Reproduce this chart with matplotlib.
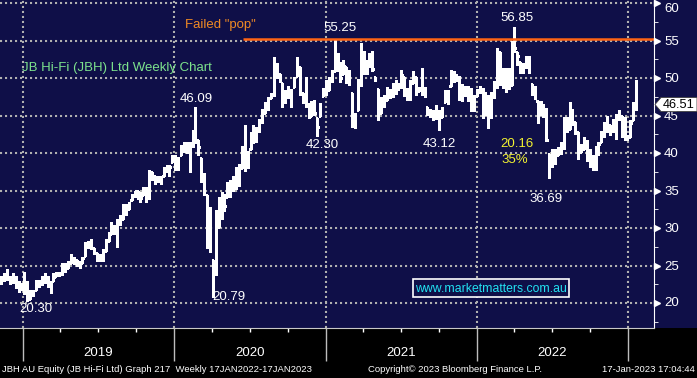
import matplotlib
matplotlib.use("Agg")
import matplotlib.pyplot as plt
import matplotlib.dates as mdates
from matplotlib.patches import Rectangle, Polygon
from matplotlib.transforms import blended_transform_factory
import numpy as np

plt.rcParams["font.family"] = ["Liberation Sans", "DejaVu Sans"]
NARROW = ["Liberation Sans Narrow", "Liberation Sans", "DejaVu Sans"]

# weekly bars, JBH AU Equity, first bar week ending 2018-11-09
first_week = "2018-11-09"
highs = [
    23.6, 24.0, 24.5, 23.6, 24.0, 23.6, 22.9, 22.7, 24.2, 22.9,
    21.8, 21.8, 23.1, 23.1, 23.6, 24.0, 23.6, 22.9, 24.0, 24.2,
    24.2, 25.4, 25.4, 25.6, 26.5, 26.1, 25.8, 25.6, 26.1, 28.1,
    28.3, 28.5, 27.4, 26.7, 26.5, 27.2, 28.5, 29.5, 30.8, 30.4,
    31.2, 31.8, 33.2, 33.2, 33.5, 34.6, 35.0, 35.0, 34.8, 35.5,
    35.5, 37.7, 37.5, 37.0, 37.0, 37.0, 38.2, 38.4, 38.4, 39.7,
    39.7, 39.5, 41.1, 41.5, 41.5, 41.5, 43.1, 46.09, 41.7, 39.3,
    37.3, 34.4, 32.8, 25.7, 32.4, 34.1, 34.8, 34.6, 36.2, 36.4,
    37.0, 38.2, 38.5, 41.0, 43.7, 40.3, 42.8, 43.7, 43.5, 44.6,
    45.9, 46.8, 47.5, 48.0, 52.8, 52.0, 50.6, 49.3, 48.4, 49.0,
    48.5, 50.2, 52.8, 51.5, 48.0, 50.2, 46.7, 46.9, 47.1, 44.7,
    46.7, 48.7, 49.8, 50.2, 51.1, 55.25, 53.3, 52.2, 52.4, 51.5,
    51.1, 48.0, 45.3, 49.9, 54.7, 53.6, 52.4, 53.3, 53.6, 50.2,
    48.6, 47.5, 47.7, 48.8, 48.6, 49.3, 49.7, 49.3, 51.1, 50.2,
    48.7, 49.7, 50.9, 50.2, 48.8, 51.3, 48.8, 46.2, 45.9, 45.7,
    46.4, 45.7, 46.2, 48.4, 48.4, 51.1, 51.0, 50.6, 50.3, 49.2,
    49.0, 48.9, 48.7, 47.8, 48.5, 48.9, 48.7, 48.2, 47.8, 48.2,
    49.6, 54.0, 53.5, 51.3, 51.3, 51.3, 54.9, 56.85, 53.5, 52.2,
    52.0, 52.9, 52.9, 49.2, 49.0, 47.0, 47.0, 46.5, 46.0, 39.9,
    40.6, 40.6, 40.8, 41.5, 44.8, 44.8, 46.8, 45.9, 44.1, 42.8,
    41.2, 42.1, 41.7, 40.6, 39.7, 41.0, 41.5, 43.0, 44.1, 45.0,
    43.7, 44.6, 45.2, 45.7, 45.0, 44.8, 42.4, 44.4, 46.8, 49.7,
]
lows = [
    22.5, 22.9, 23.1, 22.5, 22.7, 22.0, 21.5, 21.8, 21.2, 20.3,
    20.6, 21.0, 21.7, 22.2, 22.4, 22.7, 22.2, 21.3, 22.9, 23.6,
    23.6, 23.8, 24.2, 24.7, 25.4, 25.2, 24.9, 24.7, 25.4, 26.3,
    27.4, 27.2, 26.5, 25.6, 25.6, 25.6, 27.0, 28.3, 29.2, 29.2,
    27.5, 30.4, 31.2, 31.8, 32.5, 33.7, 34.1, 33.9, 33.5, 34.4,
    33.5, 33.9, 36.4, 35.9, 36.1, 35.9, 37.0, 37.5, 37.0, 38.8,
    37.7, 37.8, 39.7, 40.2, 40.0, 37.5, 40.8, 41.3, 39.7, 36.1,
    34.4, 27.4, 26.8, 20.79, 23.7, 30.1, 31.2, 32.3, 34.2, 34.2,
    35.0, 35.2, 35.6, 38.0, 37.6, 38.0, 40.5, 41.4, 41.5, 42.8,
    44.0, 45.3, 45.8, 47.3, 47.6, 50.0, 49.5, 46.1, 46.7, 47.4,
    46.2, 48.8, 50.3, 47.7, 46.7, 46.2, 44.7, 44.9, 45.1, 42.3,
    44.9, 47.6, 47.8, 48.4, 49.5, 50.9, 50.9, 49.5, 50.6, 49.3,
    49.1, 43.5, 43.4, 45.8, 49.0, 50.6, 50.6, 51.5, 50.9, 49.6,
    44.4, 45.3, 46.2, 47.1, 47.3, 47.5, 47.9, 48.4, 48.7, 47.6,
    47.1, 47.1, 49.3, 47.8, 48.3, 47.8, 47.5, 45.1, 44.8, 44.4,
    44.6, 43.12, 44.8, 46.8, 46.6, 49.0, 49.5, 49.6, 47.1, 46.9,
    47.6, 46.9, 45.6, 45.6, 47.6, 48.0, 44.7, 45.1, 43.4, 44.7,
    47.3, 48.7, 49.1, 48.7, 48.2, 48.5, 49.1, 53.5, 51.8, 50.7,
    50.7, 51.3, 50.7, 47.8, 47.2, 44.0, 45.2, 44.8, 41.6, 36.69,
    38.1, 38.6, 39.7, 39.9, 40.6, 42.8, 43.2, 43.7, 42.6, 39.2,
    40.1, 40.6, 39.0, 38.1, 37.7, 37.7, 39.7, 41.5, 42.1, 42.8,
    42.4, 42.8, 41.9, 44.4, 42.1, 41.7, 41.7, 42.1, 44.4, 45.7,
]
closes = [
    23.2, 23.6, 23.3, 23.0, 23.5, 22.4, 22.2, 22.0, 21.6, 20.6,
    21.3, 21.5, 22.6, 22.5, 23.0, 23.5, 22.5, 22.2, 23.5, 23.8,
    23.9, 24.8, 24.6, 25.2, 26.0, 25.8, 25.3, 25.4, 26.0, 27.7,
    27.8, 27.5, 26.9, 26.0, 25.9, 27.0, 28.3, 29.0, 30.0, 29.6,
    30.9, 31.0, 32.6, 32.1, 33.0, 34.4, 34.9, 34.3, 34.0, 35.1,
    34.0, 37.5, 36.9, 36.3, 36.5, 36.8, 37.9, 37.9, 38.2, 39.4,
    38.9, 38.1, 40.4, 40.9, 40.6, 40.9, 43.0, 41.7, 40.8, 36.3,
    34.7, 30.2, 28.4, 24.3, 29.9, 33.5, 33.8, 33.0, 35.8, 36.0,
    36.6, 37.6, 38.0, 40.2, 40.0, 39.0, 42.0, 42.2, 43.0, 44.2,
    45.2, 46.4, 46.9, 47.8, 51.8, 50.5, 49.7, 47.0, 47.8, 48.2,
    46.8, 50.0, 52.2, 48.2, 47.2, 46.5, 45.0, 45.6, 45.3, 43.5,
    46.2, 48.3, 48.4, 49.8, 50.6, 52.6, 51.5, 50.0, 51.6, 50.0,
    49.4, 44.0, 45.0, 49.5, 52.5, 51.2, 51.6, 52.0, 51.2, 50.0,
    45.0, 46.5, 47.0, 48.2, 47.8, 48.5, 48.6, 48.9, 50.4, 48.0,
    47.6, 49.0, 50.3, 48.3, 48.5, 48.6, 47.8, 45.5, 45.2, 44.7,
    45.4, 43.8, 45.5, 48.0, 47.4, 50.6, 50.2, 50.0, 47.6, 48.4,
    48.0, 47.5, 46.0, 47.4, 48.2, 48.6, 45.2, 47.5, 44.9, 48.0,
    49.0, 53.6, 49.5, 50.0, 48.7, 49.0, 54.5, 54.0, 53.0, 51.0,
    51.5, 52.3, 51.0, 48.5, 47.9, 44.5, 46.0, 45.7, 41.7, 38.5,
    40.0, 39.2, 40.3, 41.0, 44.5, 43.0, 45.5, 44.2, 42.8, 40.0,
    40.5, 41.5, 39.4, 38.3, 38.0, 40.5, 41.2, 42.3, 43.5, 44.5,
    43.0, 44.3, 45.0, 45.3, 42.5, 42.0, 42.2, 44.0, 46.4, 46.51,
]
y_ticks = [20, 25, 30, 35, 40, 45, 50, 55, 60]
years = [2019, 2020, 2021, 2022]
failed_pop = 55.2
last_price = "46.51"

NAVY = "#0f0f48"
W, H = 697, 378
AX_W, AX_H = 654, 328
FS = 9.5

fig = plt.figure(figsize=(W / 100, H / 100), dpi=100, facecolor=NAVY)
fig.patches.append(Rectangle((0, 0), 1, (H - AX_H) / H, transform=fig.transFigure,
                             facecolor="black", edgecolor="none", zorder=-1))
ax = fig.add_axes([0, (H - AX_H) / H, AX_W / W, AX_H / H])
ax.set_facecolor(NAVY)


def at(px, py):
    # pixel position inside the plot area -> axes fraction
    return px / AX_W, 1 - py / AX_H


# bars
dates = np.datetime64(first_week) + np.arange(len(closes)) * np.timedelta64(7, "D")
x = mdates.date2num(dates)
hi, lo, cl = np.array(highs), np.array(lows), np.array(closes)
op = np.clip(np.r_[cl[0], cl[:-1]], lo, hi)
bar_kw = dict(colors="white", lw=0.75, antialiased=False, zorder=3)
ax.vlines(x, lo, hi, **bar_kw)
ax.hlines(cl, x, x + 3.0, **bar_kw)
ax.hlines(op, x - 3.0, x, **bar_kw)

x0 = mdates.date2num(np.datetime64("2018-11-06"))
x1 = mdates.date2num(np.datetime64("2023-03-04"))
ax.set_xlim(x0, x1)
ax.set_ylim(16.67, 60.4)

# dotted grid
grid_kw = dict(color="#b0b0b0", lw=1.5, ls=(0, (1, 1.4)), zorder=1)
for y in y_ticks:
    ax.axhline(y, **grid_kw)
for yr in years + [2023]:
    ax.axvline(mdates.date2num(np.datetime64(f"{yr}-01-01")), **grid_kw)

# failed pop line
ax.hlines(failed_pop, mdates.date2num(np.datetime64("2020-06-15")), x1,
          colors="#ff6414", lw=1.8, zorder=4)

# spines
for s in ["top", "left"]:
    ax.spines[s].set_visible(False)
ax.spines["right"].set_color("white")
ax.spines["bottom"].set_color("#c8c8c8")

# y axis on the right: arrow ticks, minor ticks, labels
ax.yaxis.tick_right()
ax.set_yticks(y_ticks)
ax.set_yticklabels([])
ax.set_yticks(np.arange(17.5, 60, 5), minor=True)
ax.tick_params(axis="y", which="major", length=0)
ax.tick_params(axis="y", which="minor", length=3, color="white", direction="out")
trans = blended_transform_factory(ax.transAxes, ax.transData)
ax.plot(np.full(len(y_ticks), 1.005), y_ticks, marker=">", ms=5, color="white",
        ls="none", transform=trans, clip_on=False, zorder=5)
for v in y_ticks:
    ypx = min(max(303 - (v - 20) * 7.5 + 1.5, 9), 303)
    ax.text(664 / AX_W, 1 - ypx / AX_H, str(v), transform=ax.transAxes, color="white",
            fontsize=FS, family=NARROW, ha="left", va="center", clip_on=False)

# x axis ticks
ax.xaxis.set_major_locator(mdates.YearLocator())
ax.xaxis.set_minor_locator(mdates.MonthLocator(bymonth=[4, 7, 10]))
ax.tick_params(axis="x", which="major", length=24, color="#bdbdbd", width=1,
               labelbottom=False)
ax.tick_params(axis="x", which="minor", length=3, color="white", width=1)
xtrans = blended_transform_factory(ax.transData, ax.transAxes)
for yr in years:
    ax.text(mdates.date2num(np.datetime64(f"{yr}-07-02")), -(353 - AX_H) / AX_H, str(yr),
            transform=xtrans, ha="center", va="center", color="white", fontsize=FS,
            family=NARROW, clip_on=False)

# annotations
ax.text(*at(185, 25), 'Failed "pop"', transform=ax.transAxes, color="#f08a24",
        fontsize=FS, ha="left", va="center")
ax.text(*at(22, 68), "JB Hi-Fi (JBH) Ltd Weekly Chart", transform=ax.transAxes,
        color="#7de38d", fontsize=FS, ha="left", va="center")
for txt, px, py in [("55.25", 340, 28), ("56.85", 517, 18), ("46.09", 196, 99),
                    ("20.30", 36, 309), ("20.79", 229, 297), ("42.30", 322, 145),
                    ("43.12", 439, 144), ("36.69", 546, 199)]:
    ax.text(*at(px, py), txt, transform=ax.transAxes, color="white", fontsize=FS,
            ha="center", va="center")
ax.text(*at(517, 144), "20.16", transform=ax.transAxes, color="#f2f230", fontsize=FS,
        ha="center", va="center")
ax.text(*at(501, 160), "35%", transform=ax.transAxes, color="#f2f230", fontsize=FS,
        ha="left", va="center")

# website box
ax.add_patch(Rectangle(at(413, 297), 156 / AX_W, 18 / AX_H, transform=ax.transAxes,
                       facecolor=NAVY, edgecolor="white", lw=1.2, zorder=6))
ax.text(*at(491, 288.5), "www.marketmatters.com.au", transform=ax.transAxes,
        color="#22e2f2", fontsize=8.8, ha="center", va="center", zorder=7)

# last price flag
pts = [(655, 104.5), (661, 97.5), (697, 97.5), (697, 111.5), (661, 111.5)]
fig.patches.append(Polygon([(px / W, 1 - py / H) for px, py in pts], closed=True,
                           transform=fig.transFigure, facecolor="white",
                           edgecolor="#404040", lw=0.6, zorder=10))
fig.text(679 / W, 1 - 104.5 / H, last_price, color="black", fontsize=9.2,
         ha="center", va="center", zorder=11, family=NARROW)

# footer
fy = 1 - 370 / H
fig.text(2 / W, fy, "JBH AU Equity (JB Hi-Fi Ltd) Graph 217  Weekly 17JAN2022-17JAN2023",
         color="white", fontsize=6.8, ha="left", va="center", family=NARROW)
fig.text(455 / W, fy, "Copyright\u00a9 2023 Bloomberg Finance L.P.", color="white",
         fontsize=6.8, ha="center", va="center", family=NARROW)
fig.text(695 / W, fy, "17-Jan-2023 17:04:44", color="white", fontsize=6.8,
         ha="right", va="center", family=NARROW)

fig.savefig("out.png", dpi=100, facecolor=NAVY)
